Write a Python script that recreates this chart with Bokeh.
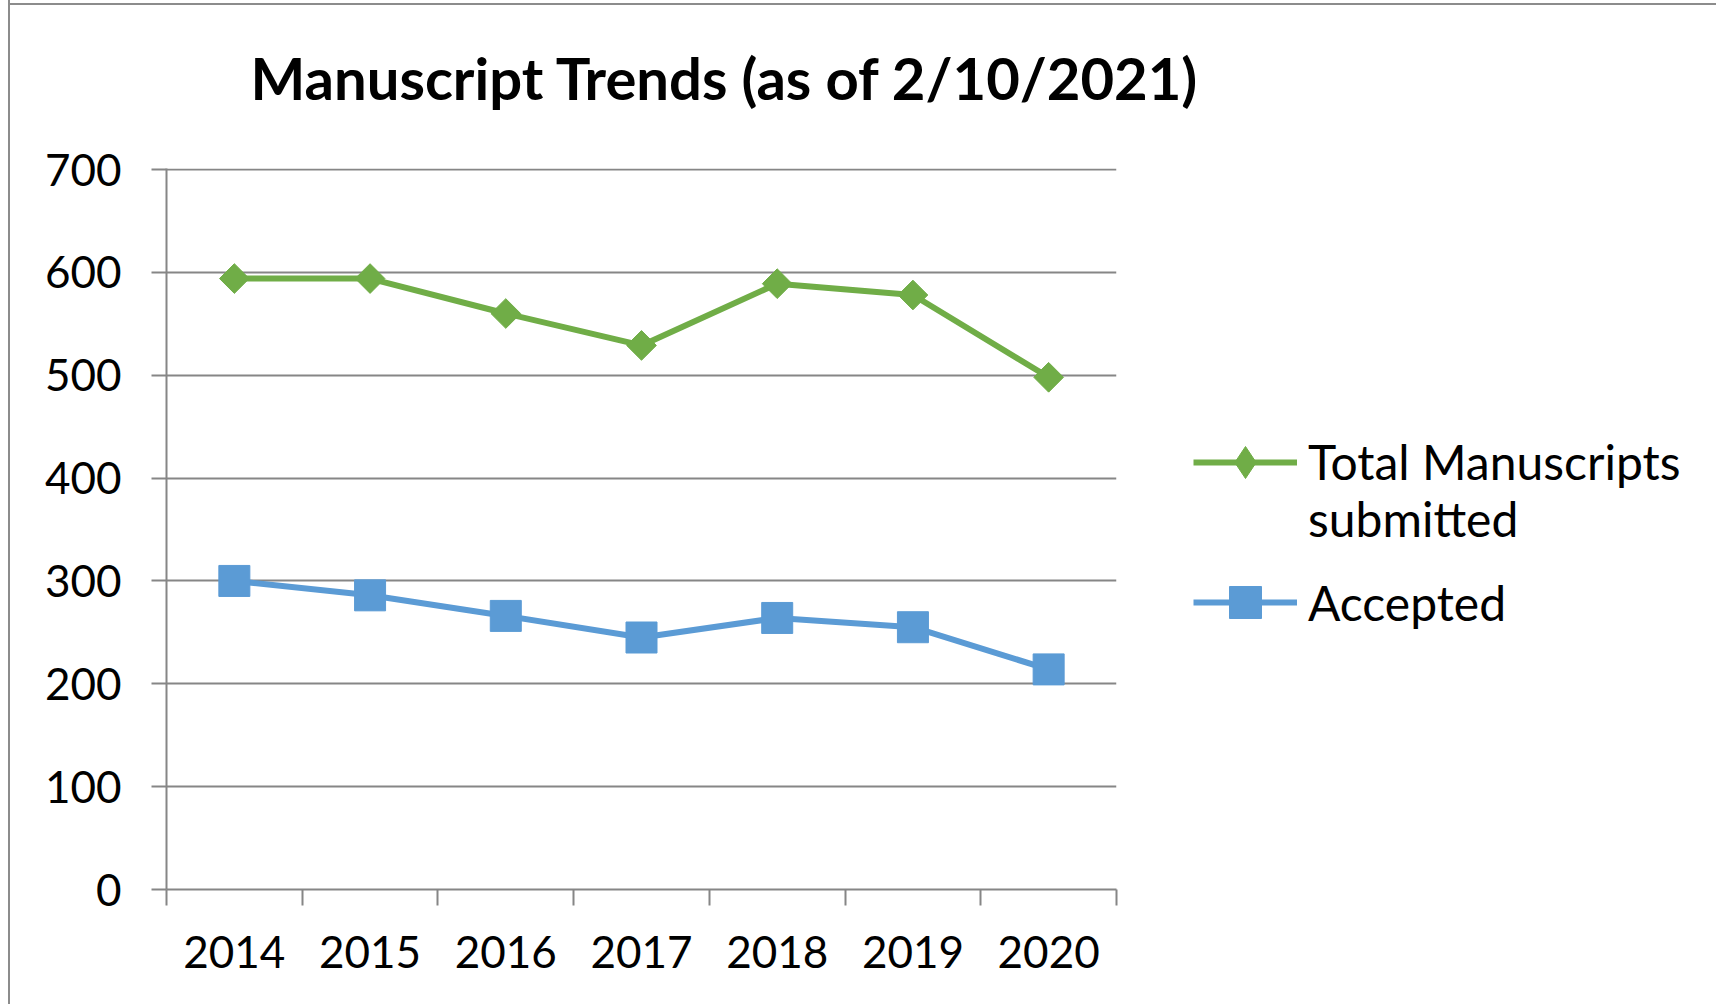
import math
from bokeh.plotting import figure
from bokeh.models import FixedTicker, Legend, LegendItem, Range1d, Title
from bokeh.embed import file_html
from bokeh.resources import INLINE

# ---- data ----
years = ["2014", "2015", "2016", "2017", "2018", "2019", "2020"]
total_submitted = [594, 594, 560, 529, 589, 578, 498]
accepted = [300, 286, 266, 245, 264, 255, 214]
y_ticks = [0, 100, 200, 300, 400, 500, 600, 700]

n = len(years)
x_pos = [i + 0.5 for i in range(n)]          # category centres
x_bounds = [i for i in range(n + 1)]          # category boundaries

GREEN = "#70AD47"
BLUE = "#5B9BD5"
GRID = "#868686"
FONT = "Lato"

p = figure(frame_width=950, frame_height=721,
           x_range=Range1d(0, n), y_range=Range1d(0, 701),
           output_backend="svg", toolbar_location=None,
           min_border_left=156, min_border_right=0,
           min_border_top=186, min_border_bottom=116)
p.styles = {"border-left": "2px solid #8c8c8c",
            "margin-left": "8px", "margin-top": "-18px",
            "background": "linear-gradient(#8c8c8c, #8c8c8c) 0px 21px / 100% 2px no-repeat"}

p.outline_line_color = None
p.background_fill_color = "white"
p.border_fill_color = None

# title
p.title = Title(text="Manuscript Trends (as of 2/10/2021)", text_font=FONT,
                text_font_style="bold", text_font_size="58px",
                text_color="black", align="left", offset=84, standoff=113)

# y axis
p.yaxis.ticker = FixedTicker(ticks=y_ticks)
p.yaxis.axis_line_color = GRID
p.yaxis.axis_line_width = 2
p.yaxis.major_tick_line_color = GRID
p.yaxis.major_tick_line_width = 2
p.yaxis.major_tick_out = 15
p.yaxis.major_tick_in = 0
p.yaxis.minor_tick_line_color = None
p.yaxis.major_label_text_font = FONT
p.yaxis.major_label_text_font_size = "44px"
p.yaxis.major_label_text_color = "black"
p.yaxis.major_label_standoff = 30

# x axis: labels at centres, tick marks at boundaries
p.xaxis.ticker = FixedTicker(ticks=x_pos, minor_ticks=x_bounds)
p.xaxis.major_label_overrides = {x: y for x, y in zip(x_pos, years)}
p.xaxis.axis_line_color = GRID
p.xaxis.axis_line_width = 2
p.xaxis.major_tick_out = 0
p.xaxis.major_tick_in = 0
p.xaxis.major_tick_line_color = None
p.xaxis.minor_tick_line_color = GRID
p.xaxis.minor_tick_line_width = 2
p.xaxis.minor_tick_out = 16
p.xaxis.minor_tick_in = 0
p.xaxis.major_label_text_font = FONT
p.xaxis.major_label_text_font_size = "44px"
p.xaxis.major_label_text_color = "black"
p.xaxis.major_label_standoff = 30

# grid
p.xgrid.visible = False
p.ygrid.ticker = FixedTicker(ticks=y_ticks)
p.ygrid.grid_line_color = GRID
p.ygrid.grid_line_width = 2

# series
r1 = p.line(x_pos, total_submitted, line_color=GREEN, line_width=6)
r1m = p.scatter(x_pos, total_submitted, marker="square", angle=math.pi / 4,
                size=21, fill_color=GREEN, line_color=GREEN)
r2 = p.line(x_pos, accepted, line_color=BLUE, line_width=6)
r2m = p.scatter(x_pos, accepted, marker="square", size=31,
                fill_color=BLUE, line_color=BLUE)
# diamond used only for the legend sample
r1d = p.scatter(x_pos, total_submitted, marker="diamond", size=32,
                fill_color=GREEN, line_color=GREEN, visible=False)

legend = Legend(items=[
    LegendItem(label="\nTotal Manuscripts\nsubmitted", renderers=[r1, r1d]),
    LegendItem(label="Accepted", renderers=[r2, r2m]),
], location=(77, 247), glyph_width=104, glyph_height=80, label_standoff=11,
    label_text_font=FONT, label_text_font_size="48px", label_text_color="black",
    label_text_line_height=1.42,
    border_line_color=None, background_fill_alpha=0, padding=0, margin=0,
    spacing=15)
p.add_layout(legend, "right")

open("out.html", "w").write(file_html(p, INLINE))
